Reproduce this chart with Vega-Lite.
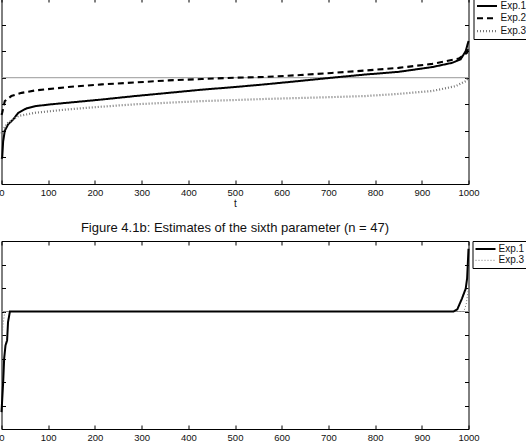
{
  "$schema": "https://vega.github.io/schema/vega-lite/v6.json",
  "padding": {"left": -3.5, "top": -3, "right": 0, "bottom": 0},
  "background": "white",
  "config": {
    "font": "Liberation Sans",
    "view": {"stroke": "black", "strokeWidth": 1},
    "axis": {"grid": false, "domain": false, "tickColor": "black", "tickSize": -4, "labelFontSize": 9.5, "labelColor": "#111", "labelPadding": 7, "labelFlush": false, "format": "d", "titleFontSize": 10, "titleFontWeight": "normal", "titleColor": "#111", "titlePadding": 2},
    "legend": {"orient": "right", "offset": 0, "strokeColor": "black", "fillColor": "white", "padding": 2, "labelFontSize": 10, "labelColor": "#111", "symbolType": "M-2,0H2", "symbolSize": 100, "symbolOffset": 5, "labelOffset": 7, "rowPadding": 0.8, "labelLimit": 100},
    "title": {"fontSize": 13, "fontWeight": "normal", "color": "#111", "offset": 6},
    "concat": {"spacing": 12}
  },
  "datasets": {
    "top": [
      {"exp": "Exp.1", "t": 0, "v": 0.95}, {"exp": "Exp.1", "t": 1.5, "v": 1.0}, {"exp": "Exp.1", "t": 3.5, "v": 1.6}, {"exp": "Exp.1", "t": 7, "v": 2.0}, {"exp": "Exp.1", "t": 14, "v": 2.24}, {"exp": "Exp.1", "t": 25, "v": 2.43}, {"exp": "Exp.1", "t": 36, "v": 2.68}, {"exp": "Exp.1", "t": 54, "v": 2.85}, {"exp": "Exp.1", "t": 72, "v": 2.93}, {"exp": "Exp.1", "t": 107, "v": 3.0}, {"exp": "Exp.1", "t": 143, "v": 3.06}, {"exp": "Exp.1", "t": 215, "v": 3.18}, {"exp": "Exp.1", "t": 286, "v": 3.31}, {"exp": "Exp.1", "t": 358, "v": 3.43}, {"exp": "Exp.1", "t": 429, "v": 3.55}, {"exp": "Exp.1", "t": 500, "v": 3.65}, {"exp": "Exp.1", "t": 564, "v": 3.75}, {"exp": "Exp.1", "t": 640, "v": 3.88}, {"exp": "Exp.1", "t": 707, "v": 4.0}, {"exp": "Exp.1", "t": 779, "v": 4.12}, {"exp": "Exp.1", "t": 850, "v": 4.22}, {"exp": "Exp.1", "t": 922, "v": 4.4}, {"exp": "Exp.1", "t": 965, "v": 4.56}, {"exp": "Exp.1", "t": 983, "v": 4.69}, {"exp": "Exp.1", "t": 994, "v": 5.0}, {"exp": "Exp.1", "t": 1000, "v": 5.38},
      {"exp": "Exp.2", "t": 0, "v": 2.6}, {"exp": "Exp.2", "t": 1.5, "v": 2.68}, {"exp": "Exp.2", "t": 7, "v": 3.12}, {"exp": "Exp.2", "t": 21, "v": 3.31}, {"exp": "Exp.2", "t": 43, "v": 3.43}, {"exp": "Exp.2", "t": 72, "v": 3.52}, {"exp": "Exp.2", "t": 143, "v": 3.65}, {"exp": "Exp.2", "t": 215, "v": 3.75}, {"exp": "Exp.2", "t": 286, "v": 3.82}, {"exp": "Exp.2", "t": 358, "v": 3.9}, {"exp": "Exp.2", "t": 429, "v": 3.95}, {"exp": "Exp.2", "t": 500, "v": 4.0}, {"exp": "Exp.2", "t": 564, "v": 4.03}, {"exp": "Exp.2", "t": 640, "v": 4.1}, {"exp": "Exp.2", "t": 707, "v": 4.18}, {"exp": "Exp.2", "t": 779, "v": 4.27}, {"exp": "Exp.2", "t": 850, "v": 4.37}, {"exp": "Exp.2", "t": 922, "v": 4.52}, {"exp": "Exp.2", "t": 979, "v": 4.72}, {"exp": "Exp.2", "t": 997, "v": 4.94}, {"exp": "Exp.2", "t": 1000, "v": 5.19},
      {"exp": "Exp.3", "t": 0, "v": 1.9}, {"exp": "Exp.3", "t": 1.4, "v": 2.0}, {"exp": "Exp.3", "t": 14, "v": 2.3}, {"exp": "Exp.3", "t": 36, "v": 2.56}, {"exp": "Exp.3", "t": 72, "v": 2.68}, {"exp": "Exp.3", "t": 143, "v": 2.81}, {"exp": "Exp.3", "t": 215, "v": 2.91}, {"exp": "Exp.3", "t": 286, "v": 3.0}, {"exp": "Exp.3", "t": 358, "v": 3.06}, {"exp": "Exp.3", "t": 429, "v": 3.12}, {"exp": "Exp.3", "t": 500, "v": 3.16}, {"exp": "Exp.3", "t": 564, "v": 3.2}, {"exp": "Exp.3", "t": 707, "v": 3.27}, {"exp": "Exp.3", "t": 779, "v": 3.31}, {"exp": "Exp.3", "t": 850, "v": 3.39}, {"exp": "Exp.3", "t": 922, "v": 3.5}, {"exp": "Exp.3", "t": 972, "v": 3.68}, {"exp": "Exp.3", "t": 994, "v": 3.87}, {"exp": "Exp.3", "t": 1000, "v": 4.0}
    ],
    "bot": [
      {"exp": "Exp.1", "t": 0, "v": 0.72}, {"exp": "Exp.1", "t": 3.6, "v": 2.0}, {"exp": "Exp.1", "t": 5.7, "v": 3.0}, {"exp": "Exp.1", "t": 8.6, "v": 3.56}, {"exp": "Exp.1", "t": 12, "v": 3.77}, {"exp": "Exp.1", "t": 14, "v": 4.55}, {"exp": "Exp.1", "t": 18, "v": 5.0}, {"exp": "Exp.1", "t": 968, "v": 5.0}, {"exp": "Exp.1", "t": 976, "v": 5.09}, {"exp": "Exp.1", "t": 986, "v": 5.55}, {"exp": "Exp.1", "t": 994, "v": 5.97}, {"exp": "Exp.1", "t": 997, "v": 6.4}, {"exp": "Exp.1", "t": 1000, "v": 7.67},
      {"exp": "Exp.3", "t": 0, "v": 3.3}, {"exp": "Exp.3", "t": 3, "v": 4.4}, {"exp": "Exp.3", "t": 7, "v": 5.0}, {"exp": "Exp.3", "t": 990, "v": 5.0}, {"exp": "Exp.3", "t": 995, "v": 5.3}, {"exp": "Exp.3", "t": 1000, "v": 6.0}
    ]
  },
  "vconcat": [
    {
      "width": 467,
      "height": 186,
      "data": {"name": "top"},
      "layer": [
        {
          "data": {"values": [{}]},
          "mark": {"type": "rule", "color": "#999", "strokeWidth": 1},
          "encoding": {"y": {"datum": 4, "type": "quantitative", "axis": null}}
        },
        {
          "mark": {"type": "line"},
          "encoding": {
            "x": {"field": "t", "type": "quantitative", "scale": {"domain": [0, 1000], "nice": false}, "axis": {"orient": "bottom", "values": [0, 100, 200, 300, 400, 500, 600, 700, 800, 900, 1000], "title": "t"}},
            "y": {"field": "v", "type": "quantitative", "scale": {"domain": [0, 7], "nice": false, "zero": false}, "axis": {"orient": "left", "values": [0, 1, 2, 3, 4, 5, 6, 7], "labels": false, "title": null}},
            "color": {"field": "exp", "type": "nominal", "title": null, "scale": {"domain": ["Exp.1", "Exp.2", "Exp.3"], "range": ["black", "black", "#777"]}},
            "strokeDash": {"field": "exp", "type": "nominal", "title": null, "scale": {"domain": ["Exp.1", "Exp.2", "Exp.3"], "range": [[1, 0], [6, 4], [1, 2]]}},
            "strokeWidth": {"field": "exp", "type": "nominal", "title": null, "scale": {"domain": ["Exp.1", "Exp.2", "Exp.3"], "range": [2, 2.2, 1]}}
          }
        },
        {
          "mark": {"type": "point", "opacity": 0},
          "encoding": {
            "x": {"field": "t", "type": "quantitative", "axis": {"orient": "top", "values": [0, 100, 200, 300, 400, 500, 600, 700, 800, 900, 1000], "labels": false, "title": null}},
            "y": {"field": "v", "type": "quantitative", "axis": {"orient": "right", "values": [0, 1, 2, 3, 4, 5, 6, 7], "labels": false, "title": null}}
          }
        }
      ],
      "resolve": {"axis": {"x": "independent", "y": "independent"}}
    },
    {
      "width": 467,
      "height": 188,
      "title": "Figure 4.1b: Estimates of the sixth parameter (n = 47)",
      "data": {"name": "bot"},
      "layer": [
        {
          "data": {"values": [{}]},
          "mark": {"type": "rule", "color": "#999", "strokeWidth": 1},
          "encoding": {"y": {"datum": 5, "type": "quantitative", "axis": null}}
        },
        {
          "transform": [{"filter": "datum.exp === 'Exp.3'"}],
          "mark": {"type": "line"},
          "encoding": {
            "x": {"field": "t", "type": "quantitative", "scale": {"domain": [0, 1000], "nice": false}, "axis": {"orient": "bottom", "values": [0, 100, 200, 300, 400, 500, 600, 700, 800, 900, 1000], "title": "t"}},
            "y": {"field": "v", "type": "quantitative", "scale": {"domain": [0, 8], "nice": false, "zero": false}, "axis": {"orient": "left", "values": [0, 1, 2, 3, 4, 5, 6, 7, 8], "labels": false, "title": null}},
            "color": {"field": "exp", "type": "nominal", "title": null, "scale": {"domain": ["Exp.1", "Exp.3"], "range": ["black", "#777"]}},
            "strokeDash": {"field": "exp", "type": "nominal", "title": null, "scale": {"domain": ["Exp.1", "Exp.3"], "range": [[1, 0], [1, 2]]}},
            "strokeWidth": {"field": "exp", "type": "nominal", "title": null, "scale": {"domain": ["Exp.1", "Exp.3"], "range": [2, 1]}}
          }
        },
        {
          "transform": [{"filter": "datum.exp === 'Exp.1'"}],
          "mark": {"type": "line"},
          "encoding": {
            "x": {"field": "t", "type": "quantitative", "axis": null},
            "y": {"field": "v", "type": "quantitative", "axis": null},
            "color": {"field": "exp", "type": "nominal", "title": null},
            "strokeDash": {"field": "exp", "type": "nominal", "title": null},
            "strokeWidth": {"field": "exp", "type": "nominal", "title": null}
          }
        },
        {
          "mark": {"type": "point", "opacity": 0},
          "encoding": {
            "x": {"field": "t", "type": "quantitative", "axis": {"orient": "top", "values": [0, 100, 200, 300, 400, 500, 600, 700, 800, 900, 1000], "labels": false, "title": null}},
            "y": {"field": "v", "type": "quantitative", "axis": {"orient": "right", "values": [0, 1, 2, 3, 4, 5, 6, 7, 8], "labels": false, "title": null}}
          }
        }
      ],
      "resolve": {"axis": {"x": "independent", "y": "independent"}}
    }
  ],
  "resolve": {"scale": {"color": "independent", "strokeDash": "independent", "strokeWidth": "independent"}}
}
